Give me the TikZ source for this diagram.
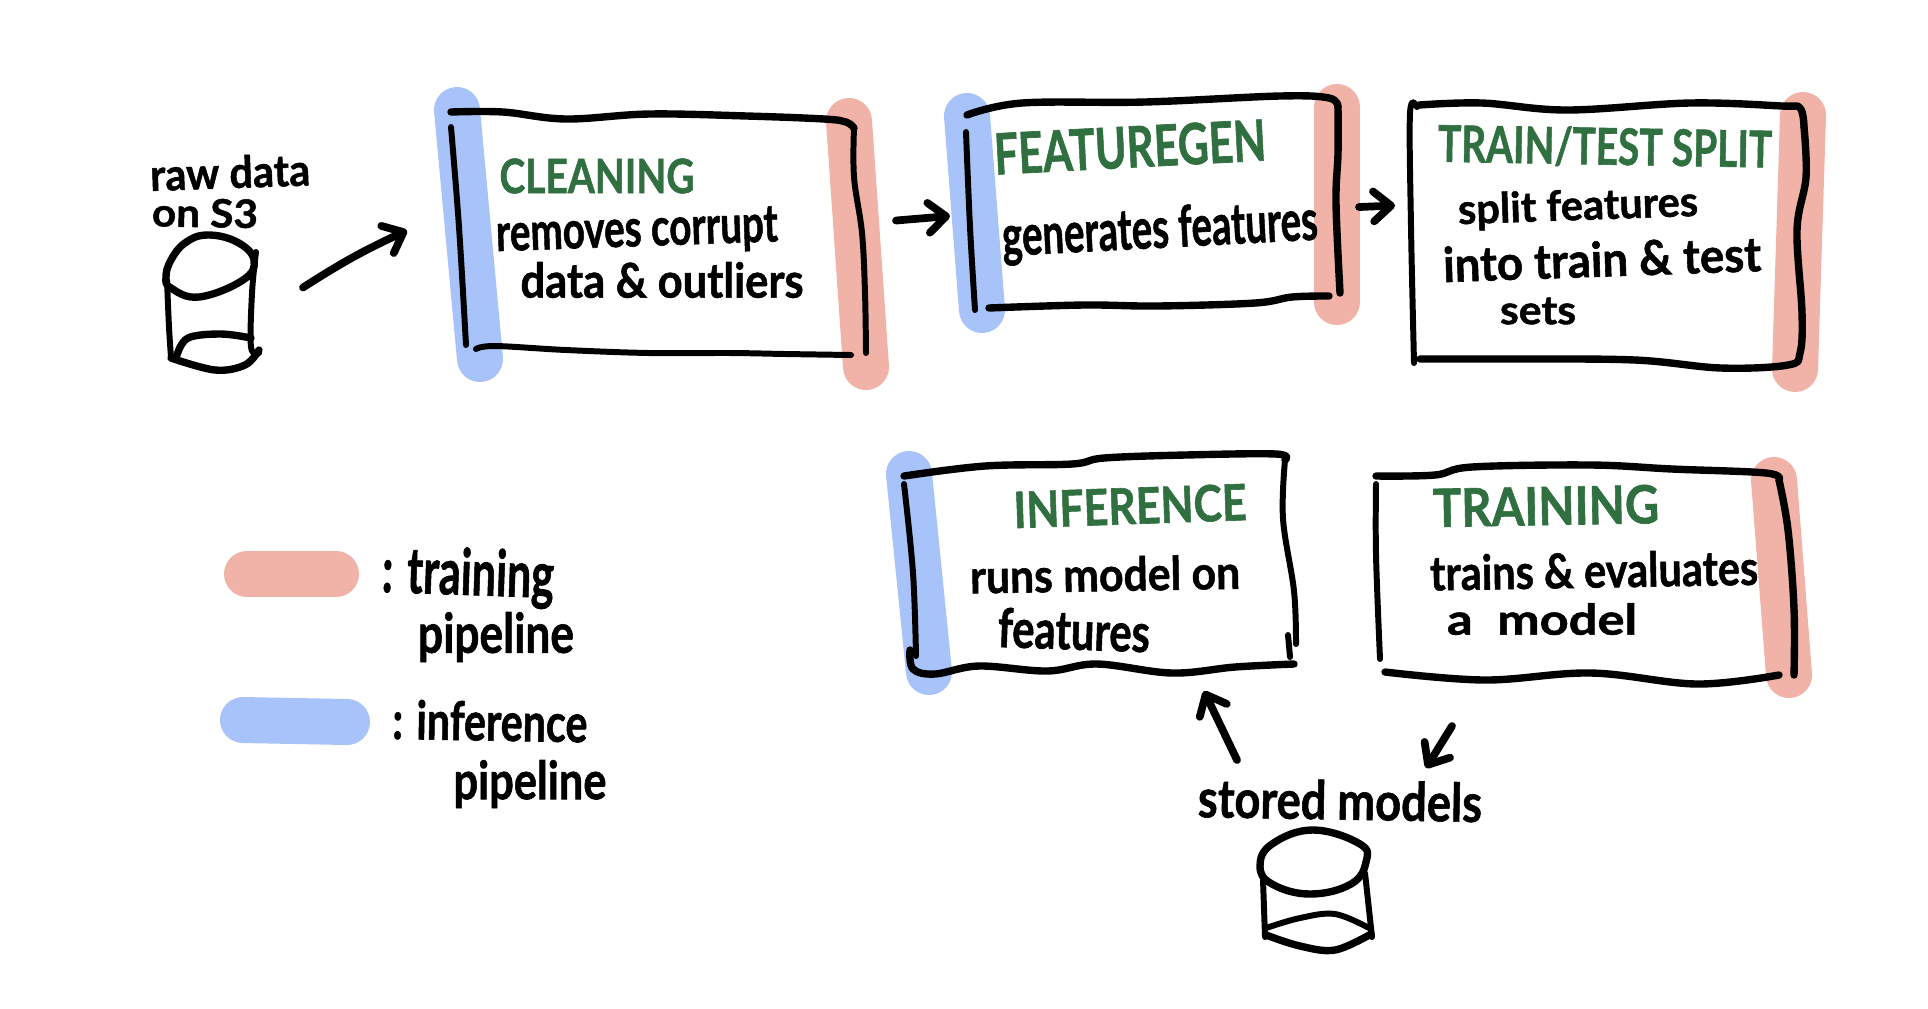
\documentclass[tikz,border=0pt]{standalone}
\usepackage{fontspec}
\usepackage{graphicx}
\usepackage{xcolor}
\usetikzlibrary{arrows.meta,fit}
\setmainfont{Lato}[BoldFeatures={FakeBold=1.2}]
\definecolor{trainred}{RGB}{241,178,168}
\definecolor{inferblue}{RGB}{168,195,250}
\definecolor{titlegreen}{RGB}{48,112,64}
\newlength{\pxlen}
\setlength{\pxlen}{0.01cm}
\tikzset{
  inkline/.style={line width=1.7pt,line cap=round,line join=round},
  inkthick/.style={line width=2.1pt,line cap=round,line join=round},
  inkarrow/.style={line width=2.2pt,line cap=round,line join=round,-{Straight Barb[round,length=5pt,width=8.5pt]}},
  redstripe/.style={trainred,line width=46\pxlen,line cap=round},
  bluestripe/.style={inferblue,line width=46\pxlen,line cap=round},
  hand/.style={inner sep=0pt,outer sep=0pt,font=\bfseries},
  area/.style={inner sep=0pt,outer sep=0pt},
}
\newcommand{\handtext}[6]{\node[hand,rotate=#5] (#1) at (#2) {\resizebox*{#3\pxlen}{#4\pxlen}{#6}};}
\newcommand{\drawink}{\draw[inkline] plot[smooth,tension=.6] coordinates}
\newcommand{\drawinkthick}{\draw[inkthick] plot[smooth,tension=.6] coordinates}
\begin{document}
\begin{tikzpicture}[x=0.01cm,y=-0.01cm]
\useasboundingbox (0,0) rectangle (1928,1008);
\fill[white] (0,0) rectangle (1928,1008);
% highlighter stripes
\draw[bluestripe] (457,110)--(480,359);
\draw[redstripe] (849,121)--(866,367);
\draw[bluestripe] (967,116)--(982,310);
\draw[redstripe] (1337,107)--(1337,302);
\draw[redstripe] (1803,115)--(1795,369);
\draw[bluestripe] (909,474)--(929,672);
\draw[redstripe] (1774,480)--(1789,675);
\draw[redstripe] (247,574)--(336,574);
\draw[bluestripe] (243,720)--(347,722);
% areas the arrows attach to
\node[area,fit={(166,235) (259,370)}] (rawdb) {};
\node[area,fit={(451,112) (866,355)}] (cleaning) {};
\node[area,fit={(966,96) (1340,310)}] (featuregen) {};
\node[area,fit={(1410,103) (1806,368)}] (trainsplit) {};
\node[area,fit={(904,454) (1296,674)}] (inference) {};
\node[area,fit={(1376,465) (1794,684)}] (training) {};
\node[area,fit={(1260,830) (1372,950)}] (modeldb) {};
% cleaning box
\drawinkthick {(451,112) (503,112) (566,119) (649,114) (747,116) (824,119) (846,122) (854,128)};
\drawink {(854,128) (854,177) (862,233) (865,293) (866,353)};
\drawink {(451,127) (459,227) (466,345)};
\drawink {(476,349) (495,346) (566,350) (649,353) (731,353) (786,354) (851,355)};
% featuregen box
\drawinkthick {(967,115) (1022,103) (1145,102) (1280,96) (1329,98) (1338,107)};
\drawinkthick {(1338,107) (1338,153) (1336,203) (1340,293)};
\drawink {(966,132) (970,227) (975,310)};
\drawinkthick {(989,308) (1084,305) (1157,306) (1255,303) (1292,297) (1329,296)};
% train/test split box
\drawinkthick {(1419,105) (1482,103) (1567,110) (1690,103) (1782,106) (1800,108) (1804,127)};
\drawinkthick {(1804,127) (1806,177) (1797,230) (1802,313) (1800,353) (1788,365) (1721,368) (1635,360) (1512,359) (1420,359)};
\drawink {(1417,107) (1410,113) (1411,227) (1414,363)};
% inference box
\drawinkthick {(904,476) (985,466) (1072,464) (1104,458) (1185,455) (1276,454) (1285,460)};
\drawink {(1285,460) (1283,519) (1294,591) (1296,644)};
\drawink {(1288,635) (1290,657)};
\drawinkthick {(1294,664) (1235,667) (1172,673) (1097,664) (1047,671) (979,666) (935,674) (913,669) (910,650)};
\drawink {(904,484) (913,573) (916,656)};
% training box
\drawinkthick {(1376,476) (1435,475) (1472,467) (1591,465) (1672,469) (1766,473) (1779,480)};
\drawinkthick {(1779,480) (1788,530) (1794,609) (1794,675)};
\drawink {(1376,484) (1376,555) (1380,659)};
\drawinkthick {(1385,672) (1485,680) (1591,673) (1697,684) (1779,675)};
% raw data cylinder
\draw[inkthick] plot[smooth cycle,tension=.7] coordinates {(207,235) (237,242) (254,260) (243,280) (199,297) (171,288) (166,277) (171,260) (185,243)};
\drawink {(167,280) (169,327) (171,357)};
\drawink {(256,252) (252,293) (251,347) (259,353)};
\drawinkthick {(171,358) (215,370) (245,365) (259,350)};
\drawinkthick {(177,355) (188,338) (221,334) (251,338)};
% stored models cylinder
\draw[inkthick] plot[smooth cycle,tension=.7] coordinates {(1313,830) (1360,844) (1366,862) (1351,884) (1310,894) (1272,884) (1260,866) (1272,844)};
\drawink {(1263,880) (1265,937)};
\drawink {(1365,873) (1372,937)};
\drawinkthick {(1266,935) (1300,946) (1335,950) (1371,934)};
\drawink {(1266,928) (1300,918) (1335,914) (1369,928)};
% arrows
\draw[inkarrow] ([shift={(44,-15)}]rawdb.east) to[bend left=4] ([shift={(-44,-3)}]cleaning.west);
\draw[inkarrow] ([shift={(30,-13)}]cleaning.east) -- ([shift={(-16,13)}]featuregen.west);
\draw[inkarrow] ([shift={(19,4)}]featuregen.east) -- ([shift={(-15,-30)}]trainsplit.west);
\draw[inkarrow] ([shift={(-79,-70)}]modeldb.north) -- ([shift={(104,17)}]inference.south);
\draw[inkarrow] ([shift={(-133,42)}]training.south) -- ([shift={(110,-62)}]modeldb.north);
% labels
\handtext{rawlabela}{230,172}{160}{33}{2}{raw data}
\handtext{rawlabelb}{205,213}{106}{29}{-1}{on S3}
\handtext{cleantitle}{597,176}{195}{35}{0}{\color{titlegreen}CLEANING}
\handtext{cleanlinea}{637,233}{282}{44}{2}{removes corrupt}
\handtext{cleanlineb}{662,280}{283}{36}{0}{data \& outliers}
\handtext{feattitle}{1130,147}{272}{42}{3}{\color{titlegreen}FEATUREGEN}
\handtext{featline}{1160,232}{316}{52}{3}{generates features}
\handtext{splittitle}{1605,147}{334}{40}{-1}{\color{titlegreen}TRAIN/TEST SPLIT}
\handtext{splitlinea}{1578,208}{240}{38}{2}{split features}
\handtext{splitlineb}{1602,259}{318}{36}{2}{into train \& test}
\handtext{splitlinec}{1538,311}{76}{27}{0}{sets}
\handtext{infertitle}{1130,506}{233}{37}{2}{\color{titlegreen}INFERENCE}
\handtext{inferlinea}{1105,574}{270}{35}{1}{runs model on}
\handtext{inferlineb}{1074,630}{152}{40}{-2}{features}
\handtext{traintitle}{1546,506}{226}{39}{1}{\color{titlegreen}TRAINING}
\handtext{trainlinea}{1594,570}{328}{36}{1}{trains \& evaluates}
\handtext{trainlineb}{1542,619}{190}{32}{0}{a\ \ model}
\handtext{storedlabel}{1340,800}{284}{40}{-1}{stored models}
\handtext{legendreda}{468,577}{172}{59}{-2}{: training}
\handtext{legendredb}{496,637}{156}{50}{0}{pipeline}
\handtext{legendbluea}{490,721}{195}{40}{-1}{: inference}
\handtext{legendblueb}{530,784}{153}{48}{0}{pipeline}
\end{tikzpicture}
\end{document}
